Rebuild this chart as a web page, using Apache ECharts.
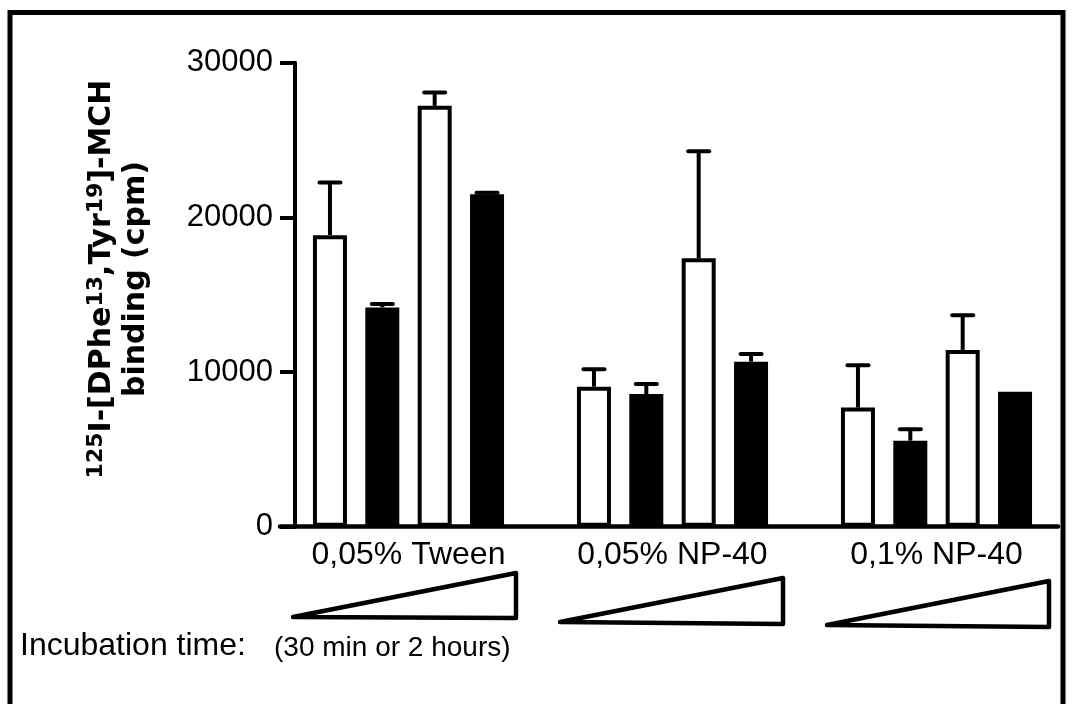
<!DOCTYPE html>
<html>
<head>
<meta charset="utf-8">
<script src="https://cdn.jsdelivr.net/npm/echarts@6/dist/echarts.min.js"></script>
<style>
  html, body { margin: 0; padding: 0; background: #fff; }
  #chart { width: 1072px; height: 704px; }
</style>
</head>
<body>
<div id="chart"></div>
<script>
const groups = ['0,05% Tween', '0,05% NP-40', '0,1% NP-40'];
// mean binding (cpm), bars in drawing order inside each group
const open30 = [18850, 9050, 7700];
const filled30 = [14180, 8580, 5560];
const open2h = [27210, 17350, 11430];
const filled2h = [21490, 10670, 8730];
// upward error bars (SEM)
const open30Err = [3410, 1130, 2740];
const filled30Err = [215, 650, 740];
const open2hErr = [870, 6920, 2240];
const filled2hErr = [100, 500, 0];
const yTicks = [0, 10000, 20000, 30000];

const BAR_W = 34;
const BAR_GAP = 0.54;
const PITCH = BAR_W * (1 + BAR_GAP);
const CAP = 21;

const means = [open30, filled30, open2h, filled2h];
const errs = [open30Err, filled30Err, open2hErr, filled2hErr];
const fills = ['#fff', '#000', '#fff', '#000'];

const barSeries = means.map((d, k) => ({
  type: 'bar',
  xAxisIndex: 0,
  yAxisIndex: 0,
  data: d,
  barWidth: BAR_W,
  barGap: BAR_GAP * 100 + '%',
  silent: true,
  itemStyle: { color: fills[k], borderColor: '#000', borderWidth: 4 },
  z: 2,
}));

const errData = [];
errs.forEach((e, k) => e.forEach((v, i) => errData.push([i, k, means[k][i], v])));

const errSeries = {
  type: 'custom',
  xAxisIndex: 0,
  yAxisIndex: 0,
  silent: true,
  z: 3,
  data: errData,
  renderItem: (params, api) => {
    const cat = api.value(0);
    const k = api.value(1);
    const mean = api.value(2);
    const sem = api.value(3);
    if (!sem) return null;
    const base = api.coord([cat, mean]);
    const top = api.coord([cat, mean + sem]);
    const x = base[0] + (k - 1.5) * PITCH;
    const st = { stroke: '#000', lineWidth: 4, lineCap: 'round' };
    return {
      type: 'group',
      children: [
        { type: 'line', shape: { x1: x, y1: base[1], x2: x, y2: top[1] }, style: { stroke: '#000', lineWidth: 4 } },
        { type: 'line', shape: { x1: x - CAP / 2, y1: top[1], x2: x + CAP / 2, y2: top[1] }, style: st },
      ],
    };
  },
};

const chart = echarts.init(document.getElementById('chart'));
chart.setOption({
  backgroundColor: '#fff',
  animation: false,
  grid: [
    { left: 276.5, right: 3.5, top: 62.7, height: 464, outerBoundsMode: 'none' },
    { left: 280, right: 14, top: 62.7, height: 464, outerBoundsMode: 'none' },
  ],
  xAxis: [
    {
      type: 'category',
      gridIndex: 0,
      data: groups,
      axisLine: { show: false },
      axisTick: { show: false },
      axisLabel: {
        color: '#000',
        fontFamily: 'Liberation Sans',
        fontSize: 32,
        margin: 12,
      },
    },
    {
      type: 'value',
      gridIndex: 1,
      min: 0,
      max: 1,
      axisLine: { show: true, lineStyle: { color: '#000', width: 4.5 } },
      axisTick: { show: false },
      axisLabel: { show: false },
      splitLine: { show: false },
    },
  ],
  yAxis: [
    {
      type: 'value',
      gridIndex: 0,
      min: yTicks[0],
      max: yTicks[yTicks.length - 1],
      interval: yTicks[1] - yTicks[0],
      offset: -18.5,
      axisLine: { show: true, lineStyle: { color: '#000', width: 4 } },
      axisTick: { show: true, length: 15, lineStyle: { color: '#000', width: 4 } },
      axisLabel: {
        color: '#000',
        fontFamily: 'Liberation Sans',
        fontSize: 31,
        margin: 22,
        formatter: (v) => String(v),
      },
      splitLine: { show: false },
    },
    { type: 'value', gridIndex: 1, min: 0, max: 1, show: false },
  ],
  series: [...barSeries, errSeries],
  graphic: [
    {
      type: 'rect',
      silent: true,
      shape: { x: 10, y: 12.5, width: 1053, height: 740 },
      style: { fill: 'none', stroke: '#000', lineWidth: 5 },
    },
    {
      type: 'text',
      silent: true,
      x: 119,
      y: 279,
      rotation: Math.PI / 2,
      style: {
        text: '{s|125}{n|I-[DPhe}{s|13}{n|,Tyr}{s|19}{n|]-MCH}\n{n|binding (cpm)}',
        align: 'center',
        verticalAlign: 'middle',
        rich: {
          n: { fontFamily: 'DejaVu Sans', fontWeight: 'bold', fontSize: 30, lineHeight: 34, fill: '#000' },
          s: { fontFamily: 'DejaVu Sans', fontWeight: 'bold', fontSize: 22, lineHeight: 23, verticalAlign: 'top', fill: '#000' },
        },
      },
    },
    {
      type: 'text',
      silent: true,
      x: 20,
      y: 646,
      style: { text: 'Incubation time:', fontFamily: 'Liberation Sans', fontSize: 32, fill: '#000', verticalAlign: 'middle' },
    },
    {
      type: 'text',
      silent: true,
      x: 274,
      y: 648,
      style: { text: '(30 min or 2 hours)', fontFamily: 'Liberation Sans', fontSize: 28, fill: '#000', verticalAlign: 'middle' },
    },
    {
      type: 'polygon',
      silent: true,
      shape: { points: [[293, 617], [516, 573], [516, 618]] },
      style: { fill: 'none', stroke: '#000', lineWidth: 4.5, lineJoin: 'round' },
    },
    {
      type: 'polygon',
      silent: true,
      shape: { points: [[560, 622], [783, 578], [783, 624]] },
      style: { fill: 'none', stroke: '#000', lineWidth: 4.5, lineJoin: 'round' },
    },
    {
      type: 'polygon',
      silent: true,
      shape: { points: [[827, 625], [1049, 581], [1049, 627]] },
      style: { fill: 'none', stroke: '#000', lineWidth: 4.5, lineJoin: 'round' },
    },
  ],
});
</script>
</body>
</html>
